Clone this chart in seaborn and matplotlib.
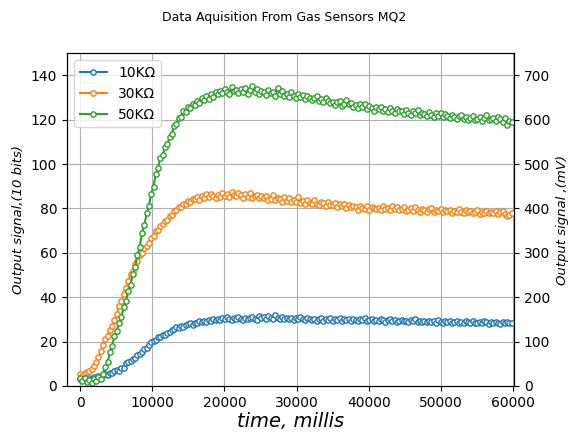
import numpy as np
import pandas as pd
import matplotlib
matplotlib.use("Agg")
import matplotlib.pyplot as plt
import seaborn as sns

# sampling grid (ms)
time_ms = np.arange(0, 60000, 318)

r10k = [
    3.1, 2.6, 3.4, 3.0, 3.8, 3.3, 4.0, 3.6, 4.4, 4.1,
    4.8, 5.4, 5.1, 6.0, 5.7, 6.6, 7.1, 6.8, 7.9, 8.3,
    10.2, 11.0, 11.4, 12.3, 12.7, 14.0, 14.5, 15.3, 16.5, 17.1,
    18.6, 19.6, 20.3, 20.8, 21.9, 22.3, 23.0, 23.2, 24.1, 24.4,
    25.1, 25.6, 26.4, 26.2, 27.1, 26.8, 27.6, 27.9, 28.3, 27.7,
    28.6, 28.2, 29.1, 28.7, 29.4, 29.0, 29.8, 29.3, 30.1, 29.6,
    30.2, 29.7, 30.5, 30.0, 31.1, 30.3, 29.8, 30.6, 30.2, 31.3,
    30.4, 29.9, 30.8, 30.1, 30.6, 31.2, 30.3, 29.8, 31.6, 30.5,
    30.9, 30.2, 31.5, 30.6, 30.1, 31.8, 30.7, 30.3, 31.0, 30.4,
    30.8, 30.1, 30.5, 29.9, 30.6, 30.3, 31.0, 30.2, 29.8, 30.5,
    30.1, 29.6, 30.4, 29.2, 30.0, 30.7, 29.5, 30.2, 29.8, 30.5,
    29.4, 30.3, 29.8, 30.6, 29.5, 30.1, 29.7, 30.4, 29.2, 30.0,
    29.9, 29.3, 30.2, 29.6, 30.5, 29.1, 29.8, 30.3, 29.5, 29.9,
    29.2, 30.1, 29.6, 29.0, 29.8, 30.4, 29.3, 29.7, 28.9, 29.5,
    29.8, 29.1, 29.5, 28.8, 29.6, 29.2, 30.0, 28.9, 29.4, 29.0,
    29.3, 28.7, 29.5, 28.9, 29.2, 28.5, 29.6, 29.0, 28.6, 29.3,
    28.8, 29.4, 28.3, 28.9, 29.2, 28.6, 29.0, 28.4, 29.3, 28.7,
    28.5, 29.1, 28.6, 28.2, 28.9, 28.4, 29.2, 28.7, 28.1, 28.8,
    28.3, 28.9, 28.5, 28.0, 28.7, 28.4, 29.0, 28.2, 28.6,
]

r30k = [
    5.2, 4.6, 5.8, 6.3, 6.9, 7.8, 9.0, 10.6, 12.9, 15.6,
    18.4, 21.2, 22.6, 25.3, 26.9, 29.8, 32.4, 36.2, 38.1, 41.5,
    44.3, 47.1, 50.6, 52.0, 55.1, 56.2, 58.9, 60.1, 62.4, 63.0,
    64.6, 66.9, 67.8, 69.9, 70.2, 72.3, 72.8, 74.5, 75.0, 76.8,
    77.2, 79.0, 79.3, 80.8, 80.6, 82.2, 81.9, 83.4, 82.9, 84.3,
    84.1, 85.2, 83.9, 85.6, 84.8, 86.3, 85.0, 86.7, 85.4, 84.9,
    86.2, 85.1, 87.0, 85.7, 86.4, 85.3, 87.3, 86.0, 85.5, 86.8,
    85.9, 84.8, 86.5, 85.2, 86.9, 84.6, 85.8, 86.2, 84.9, 85.4,
    84.7, 85.6, 83.9, 84.3, 85.9, 83.6, 84.8, 84.1, 82.9, 85.1,
    83.5, 84.6, 82.7, 83.8, 83.1, 85.0, 82.5, 83.4, 82.0, 83.9,
    82.6, 81.9, 84.0, 82.2, 81.4, 83.1, 82.5, 80.9, 82.8, 81.7,
    81.5, 82.4, 80.7, 81.9, 80.9, 82.1, 80.4, 81.6, 80.8, 81.3,
    80.6, 79.5, 81.3, 80.1, 79.8, 81.0, 79.3, 80.5, 80.2, 79.6,
    80.4, 79.4, 81.1, 79.8, 80.3, 79.2, 80.9, 79.7, 80.5, 79.1,
    79.9, 80.6, 78.9, 79.5, 80.2, 79.0, 80.8, 79.3, 78.6, 79.8,
    79.4, 78.6, 79.9, 80.3, 78.5, 79.1, 78.8, 79.6, 78.2, 79.3,
    78.7, 79.5, 78.1, 79.0, 78.4, 79.7, 78.6, 77.9, 79.2, 78.5,
    78.8, 77.9, 78.4, 79.3, 77.6, 78.6, 78.1, 79.0, 77.8, 78.3,
    78.0, 78.7, 77.4, 78.3, 78.9, 77.7, 76.8, 77.2, 78.1,
]

r50k = [
    3.5, 2.4, 3.8, 1.6, 2.9, 1.2, 3.3, 2.1, 4.0, 3.2,
    5.6, 8.4, 10.7, 15.1, 18.2, 22.6, 24.7, 28.5, 31.0, 35.6,
    38.1, 42.6, 45.7, 50.4, 53.6, 59.2, 62.5, 69.1, 72.4, 77.8,
    81.0, 86.7, 89.9, 95.6, 98.4, 102.7, 103.9, 107.6, 109.0, 112.1,
    113.5, 117.2, 118.0, 120.6, 121.0, 123.7, 123.4, 125.6, 125.1, 127.0,
    126.8, 128.3, 127.6, 129.7, 128.9, 130.8, 129.5, 131.6, 130.2, 132.4,
    131.4, 133.1, 131.9, 133.8, 132.5, 131.7, 134.6, 132.8, 133.4, 131.9,
    133.7, 132.4, 134.1, 131.8, 133.2, 135.3, 132.6, 133.9, 131.5, 133.0,
    132.7, 131.3, 133.6, 131.9, 132.4, 130.8, 134.2, 131.6, 132.9, 130.9,
    131.5, 130.2, 132.3, 130.9, 129.8, 131.7, 130.4, 131.1, 129.5, 130.6,
    130.0, 128.7, 129.6, 130.5, 128.3, 129.4, 127.9, 129.9, 128.6, 127.5,
    128.1, 126.8, 127.9, 128.6, 126.4, 127.3, 128.8, 126.9, 127.6, 125.7,
    126.5, 125.3, 127.1, 125.8, 126.9, 124.6, 126.2, 125.5, 124.1, 125.9,
    124.7, 125.6, 123.8, 124.9, 123.5, 125.2, 124.0, 122.9, 124.6, 123.7,
    123.9, 122.6, 124.2, 123.0, 122.2, 123.7, 122.8, 124.3, 121.9, 123.2,
    122.5, 121.6, 123.4, 122.0, 121.3, 122.8, 121.7, 123.1, 121.2, 122.4,
    121.8, 120.6, 122.3, 121.0, 120.2, 121.5, 122.0, 120.4, 121.3, 120.0,
    120.9, 121.7, 119.8, 120.5, 121.2, 119.6, 120.8, 122.1, 119.9, 120.3,
    120.6, 119.4, 121.0, 120.1, 118.9, 120.7, 117.6, 119.5, 118.8,
]

labels = ["10KΩ", "30KΩ", "50KΩ"]
series = [r10k, r30k, r50k]
colors = ["#1f77b4", "#ff7f0e", "#2ca02c"]
x_ticks = [0, 10000, 20000, 30000, 40000, 50000, 60000]
left_ticks = [0, 20, 40, 60, 80, 100, 120, 140]
right_ticks = [0, 100, 200, 300, 400, 500, 600, 700]

fig = plt.figure(figsize=(5.68, 4.32), dpi=100)
ax = fig.add_axes([0.118, 0.1065, 0.787, 0.7705])

for lab, vals, c in zip(labels, series, colors):
    n = min(len(vals), len(time_ms))
    df = pd.DataFrame({"t": time_ms[:n], "v": vals[:n]})
    sns.lineplot(data=df, x="t", y="v", ax=ax, label=lab, color=c,
                 marker="o", markersize=3.8, markerfacecolor="white",
                 markeredgecolor=c, markeredgewidth=1.0, linewidth=1.5)

ax.set_xlim(-1800, 60100)
ax.set_ylim(0, 150)
ax.set_xticks(x_ticks)
ax.set_yticks(left_ticks)
ax.grid(True, color="#b0b0b0", linewidth=0.8)
ax.tick_params(labelsize=10)
ax.set_xlabel("time, millis", fontsize=14, style="italic", labelpad=2)
ax.set_ylabel("Output signal,(10 bits)", fontsize=9.5, style="italic")
leg = ax.legend(loc="upper left", fontsize=10, markerscale=1.0)

ax2 = ax.twinx()
ax2.set_ylim(0, 750)
ax2.set_yticks(right_ticks)
ax2.tick_params(labelsize=10)
ax2.set_ylabel("Output signal ,(mV)", fontsize=9.5, style="italic")

fig.suptitle("Data Aquisition From Gas Sensors MQ2", fontsize=9, y=0.975)

fig.savefig("out.png", dpi=100)
